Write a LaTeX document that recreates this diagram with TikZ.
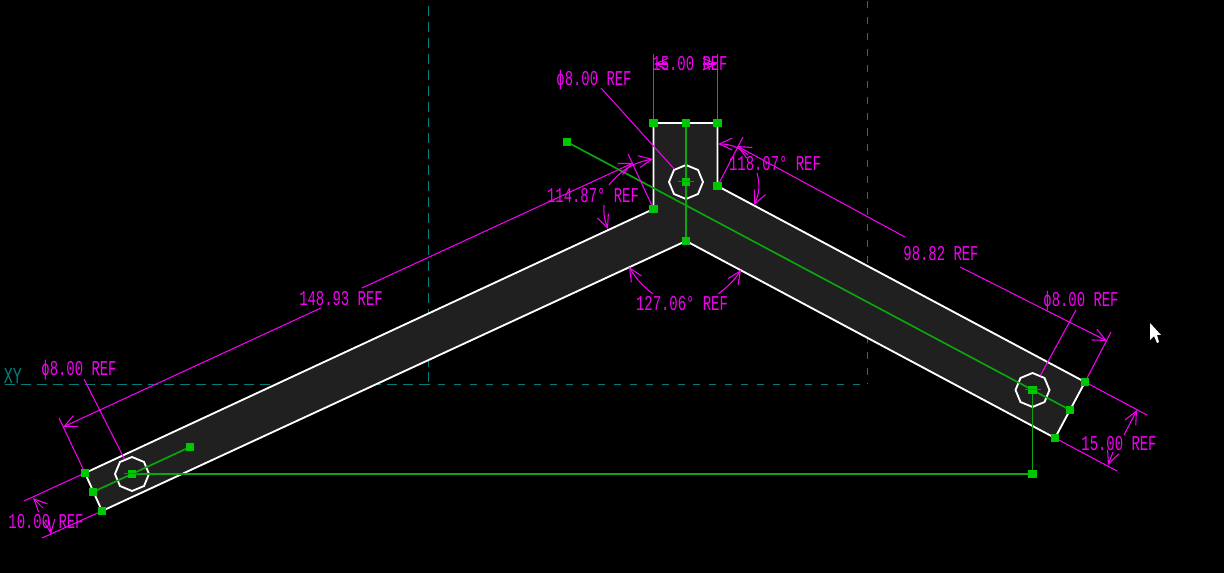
\documentclass[tikz,border=0pt]{standalone}
\usepackage{fontspec}
\usepackage{tikz}
\usetikzlibrary{arrows.meta, shapes.geometric}
\newfontfamily\cadfont[FakeStretch=0.66]{Liberation Mono}
\definecolor{cadmag}{RGB}{245,0,245}
\definecolor{cadgreen}{RGB}{12,165,12}
\definecolor{cadhandle}{RGB}{0,200,0}
\definecolor{cadteal}{RGB}{0,125,125}
\definecolor{cadbody}{RGB}{32,32,32}
\tikzstyle{handle}=[rectangle, fill=cadhandle, inner sep=0pt, minimum size=0.17cm]
\tikzstyle{reflabel}=[text=cadmag, inner sep=0pt, font=\cadfont\fontsize{12}{12}\selectfont]
\tikzstyle{dimline}=[cadmag, line width=0.6pt]
\tikzstyle{dimarrow}=[dimline, -{Straight Barb[length=0.26cm, width=0.24cm]}]
\tikzstyle{datum}=[cadteal, line width=0.6pt]
\tikzstyle{axisline}=[cadgreen, line width=0.95pt]
\tikzstyle{holeshape}=[regular polygon, regular polygon sides=8, draw=white, line width=1.05pt,
inner sep=0pt, minimum size=0.68cm, rotate=22.5]

\begin{document}
\begin{tikzpicture}[x=0.02cm, y=-0.02cm]
\fill[black] (0,0) rectangle (1224,573);
\useasboundingbox (0,0) rectangle (1224,573);

% datum lines
\coordinate (d1) at (428.5,0);
\coordinate (d2) at (428.5,384.5);
\coordinate (d3) at (867.5,0);
\coordinate (d4) at (867.5,384.5);
\coordinate (d5) at (5,384.5);
\draw[datum, dash pattern=on 5.67pt off 3.4pt, dash phase=5.67pt] (d1) -- (d2);
\draw[datum, dash pattern=on 5.67pt off 3.4pt] (d5) -- (d2);
\draw[datum, dash pattern=on 4pt off 5.07pt, dash phase=8.5pt] (d3) -- (d4);
\draw[datum, dash pattern=on 4pt off 5.07pt, dash phase=3.4pt] (d2) -- (d4);
\node[text=cadteal, inner sep=0pt, font=\cadfont\fontsize{13}{13}\selectfont] (xy) at (13,376) {XY};

% part outline
\foreach \n/\x/\y in {lt/85/473, lm/93/492, lb/102/511, cl/653.5/209, ct/653.5/123, tm/686/123,
  cr/717.5/123, nr/717.5/186, rt/1085/382, rm/1070/410, rb/1055/438, ap/686/241,
  holel/132/474, holec/686/182, holer/1032.5/390, lend/190/447, far/567/142, bend/1032.5/474}
  \coordinate (\n) at (\x,\y);
\filldraw[fill=cadbody, draw=white, line width=1.05pt]
  (lt) -- (cl) -- (ct) -- (cr) -- (nr) -- (rt) -- (rb) -- (ap) -- (lb) -- cycle;

\node[holeshape] (hl) at (holel) {};
\node[holeshape] (hc) at (holec) {};
\node[holeshape] (hr) at (holer) {};

% centre lines
\draw[axisline] (far) -- (rm);
\draw[axisline] (tm) -- (ap);
\draw[axisline] (lm) -- (lend);
\draw[axisline] (holel) -- (bend) -- (holer);

% extension lines
\coordinate (e1) at (653.5,54);
\coordinate (e2) at (717.5,54);
\coordinate (e3) at (59,418);
\coordinate (e4) at (628,154);
\coordinate (e5) at (743,137);
\coordinate (e6) at (1111,332);
\coordinate (e7) at (1147,415);
\coordinate (e8) at (1117,471);
\coordinate (e9) at (24,501);
\coordinate (e10) at (42,538);
\draw[dimline] (ct) -- (e1);
\draw[dimline] (cr) -- (e2);
\draw[dimline] (lt) -- (e3);
\draw[dimline] (cl) -- (e4);
\draw[dimline] (nr) -- (e5);
\draw[dimline] (rt) -- (e6);
\draw[dimline] (rt) -- (e7);
\draw[dimline] (rb) -- (e8);
\draw[dimline] (lt) -- (e9);
\draw[dimline] (lb) -- (e10);

% labels
\node[reflabel] (w15) at (690,64) {15.00 REF};
\node[reflabel] (dia1) at (594,80) {\char"03D5 8.00 REF};
\node[reflabel] (ang118) at (775,164) {118.07° REF};
\node[reflabel] (ang114) at (593,196) {114.87° REF};
\node[reflabel] (ang127) at (682,304) {127.06° REF};
\node[reflabel] (len148) at (341,299) {148.93 REF};
\node[reflabel] (len98) at (941,254) {98.82 REF};
\node[reflabel] (dia2) at (1081,301) {\char"03D5 8.00 REF};
\node[reflabel] (w15b) at (1119,444) {15.00 REF};
\node[reflabel] (dia3) at (79,370) {\char"03D5 8.00 REF};
\node[reflabel] (w10) at (46,522) {10.00 REF};

% dimensions
\coordinate (a1) at (668,64); \coordinate (t1) at (654,64);
\coordinate (a2) at (703,64); \coordinate (t2) at (717,64);
\draw[dimarrow] (a1) -- (t1);
\draw[dimarrow] (a2) -- (t2);

\coordinate (a3) at (321,308); \coordinate (t3) at (63,427);
\coordinate (a4) at (362,288); \coordinate (t4) at (633,163);
\draw[dimarrow] (a3) -- (t3);
\draw[dimarrow] (a4) -- (t4);

\coordinate (a5) at (905,237); \coordinate (t5) at (737,146);
\coordinate (a6) at (960,267); \coordinate (t6) at (1107,341);
\draw[dimarrow] (a5) -- (t5);
\draw[dimarrow] (a6) -- (t6);

\coordinate (a7) at (1124,435); \coordinate (t7) at (1137,410);
\coordinate (a8) at (1113,452); \coordinate (t8) at (1108,465);
\draw[dimarrow] (a7) -- (t7);
\draw[dimarrow] (a8) -- (t8);

\coordinate (a9) at (43,508); \coordinate (t9) at (33,498);
\coordinate (a10) at (49,520); \coordinate (t10) at (51,534);
\draw[dimarrow] (a9) -- (t9);
\draw[dimarrow] (a10) -- (t10);

% angle arcs
\coordinate (b1) at (748,155); \coordinate (s1) at (718,144);
\coordinate (b2) at (757,173); \coordinate (s2) at (754,205);
\draw[dimarrow] (b1) to[bend right=20] (s1);
\draw[dimarrow] (b2) to[bend left=20] (s2);

\coordinate (b3) at (609,185); \coordinate (s3) at (653,159);
\coordinate (b4) at (604,205); \coordinate (s4) at (608,229);
\draw[dimarrow] (b3) to[bend left=20] (s3);
\draw[dimarrow] (b4) to[bend right=12] (s4);

\coordinate (b5) at (653,294); \coordinate (s5) at (629,267);
\coordinate (b6) at (718,294); \coordinate (s6) at (741,270);
\draw[dimarrow] (b5) to[bend left=10] (s5);
\draw[dimarrow] (b6) to[bend right=10] (s6);

% leaders
\coordinate (l1) at (601,88); \coordinate (l2) at (1076,310); \coordinate (l3) at (84,379);
\draw[dimline] (l1) -- (hc);
\draw[dimline] (l2) -- (hr);
\draw[dimline] (l3) -- (hl);

% grips on top
\foreach \n in {lt, lm, lb, cl, ct, tm, cr, nr, rt, rm, rb, ap, holel, holec, holer, lend, far, bend}
  \node[handle] (h\n) at (\n) {};

% centre marks
\coordinate (ml1) at (124,473.5); \coordinate (ml2) at (140,473.5);
\coordinate (mc1) at (678,181.5); \coordinate (mc2) at (694,181.5);
\coordinate (mr1) at (1025,389.5); \coordinate (mr2) at (1041,389.5);
\draw[datum] (ml1) -- (ml2);
\draw[datum] (mc1) -- (mc2);
\draw[datum] (mr1) -- (mr2);

% pointer
\fill[white] (1150,323) -- (1150,340) -- (1154,336) -- (1157,343) -- (1159,342) -- (1157,335) -- (1161,335) -- cycle;
\end{tikzpicture}
\end{document}
